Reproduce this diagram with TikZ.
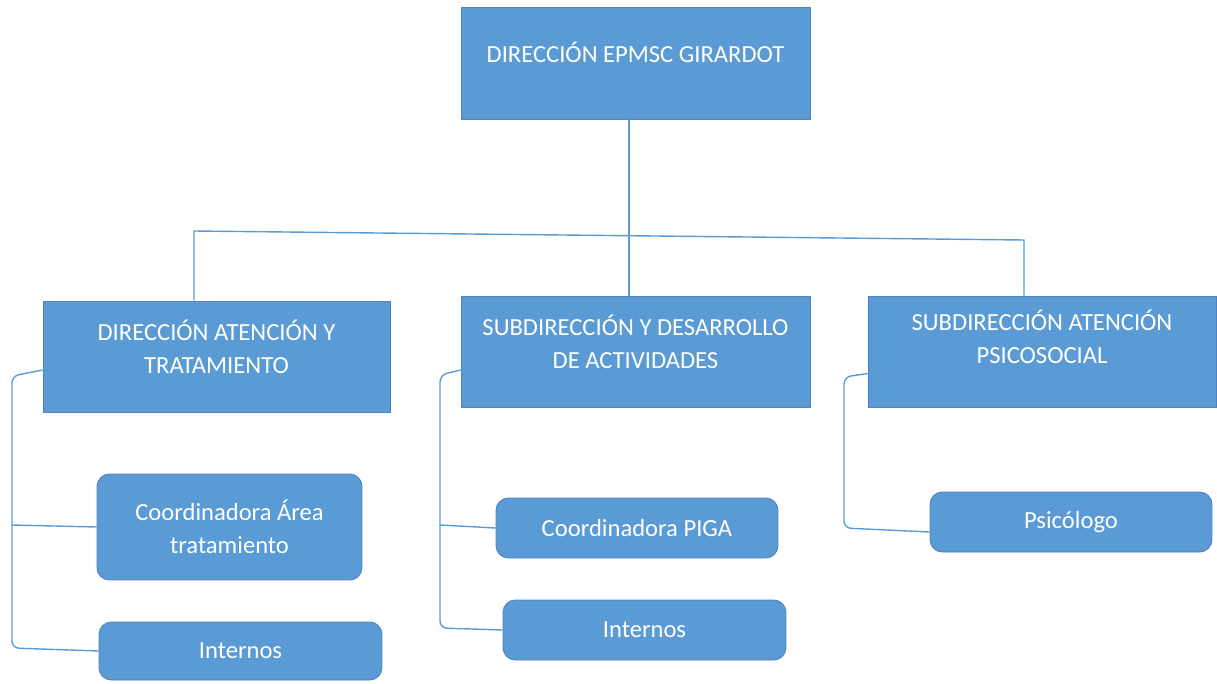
\documentclass[tikz,border=0pt]{standalone}
\usepackage{fontspec}
\setmainfont{Carlito}
\usepackage{tikz}
\definecolor{cajaazul}{HTML}{5B9BD5}
\definecolor{bordeazul}{HTML}{4F83BE}
\tikzset{
  jefe/.style = {rectangle, draw=bordeazul, line width=0.5pt, fill=cajaazul},
  cargo/.style = {rectangle, rounded corners=7pt, draw=bordeazul, line width=0.5pt, fill=cajaazul,
    text=white, align=center, font=\fontsize{14}{18.8}\selectfont},
  rotulo/.style = {text=white, align=center, font=\fontsize{14}{18.8}\selectfont},
  linea/.style = {draw=cajaazul, line width=0.8pt}
}

\begin{document}
\begin{tikzpicture}[x=0.02cm,y=-0.02cm]
  \useasboundingbox (0,0) rectangle (1217,683);

  % cajas principales
  \node[jefe, minimum width=6.98cm, minimum height=2.24cm] (top) at (635.5,63) {};
  \node[rotulo] (topT) at (635.5,52) {DIRECCIÓN EPMSC GIRARDOT};

  \node[jefe, minimum width=6.94cm, minimum height=2.22cm] (dirAt) at (216.5,356.5) {};
  \node[rotulo] (dirAtT) at (216.5,346.5) {DIRECCIÓN ATENCIÓN Y\\TRATAMIENTO};

  \node[jefe, minimum width=6.98cm, minimum height=2.22cm] (subDes) at (635.5,351.5) {};
  \node[rotulo] (subDesT) at (635.5,341.5) {SUBDIRECCIÓN Y DESARROLLO\\DE ACTIVIDADES};

  \node[jefe, minimum width=6.96cm, minimum height=2.22cm] (subPsi) at (1042,351.5) {};
  \node[rotulo] (subPsiT) at (1042,337) {SUBDIRECCIÓN ATENCIÓN\\PSICOSOCIAL};

  % cargos
  \node[cargo, minimum width=5.3cm, minimum height=2.12cm] (coordA) at (229.5,527) {Coordinadora Área\\tratamiento};
  \node[cargo, minimum width=5.66cm, minimum height=1.16cm] (intL) at (240.5,651) {Internos};
  \node[cargo, minimum width=5.64cm, minimum height=1.2cm] (piga) at (637,528) {Coordinadora PIGA};
  \node[cargo, minimum width=5.66cm, minimum height=1.2cm] (intM) at (644.5,630) {Internos};
  \node[cargo, minimum width=5.64cm, minimum height=1.2cm] (psico) at (1071,522) {Psicólogo};

  % conectores
  \coordinate (busL) at (194,231);
  \coordinate (busR) at (1024,240);
  \draw[linea] (top.south) ++(-6.5,0) -- ++(0,177);
  \draw[linea] (dirAt.north -| busL) -- (busL) -- (busR) -- (subPsi.north -| busR);

  \draw[linea, rounded corners=4pt] (dirAt.west) ++(0,13.5) -- (12,376) -- (12,648) -- (intL.west);
  \draw[linea] (12,525) -- (coordA.west);

  \draw[linea, rounded corners=4pt] (subDes.west) ++(0,18.5) -- (440,375) -- (440,628) -- (intM.west);
  \draw[linea] (440,525) -- (piga.west);

  \draw[linea, rounded corners=4pt] (subPsi.west) ++(0,22) -- (844,377) -- (844,528) -- ([yshift=-0.2cm]psico.west);
\end{tikzpicture}
\end{document}
